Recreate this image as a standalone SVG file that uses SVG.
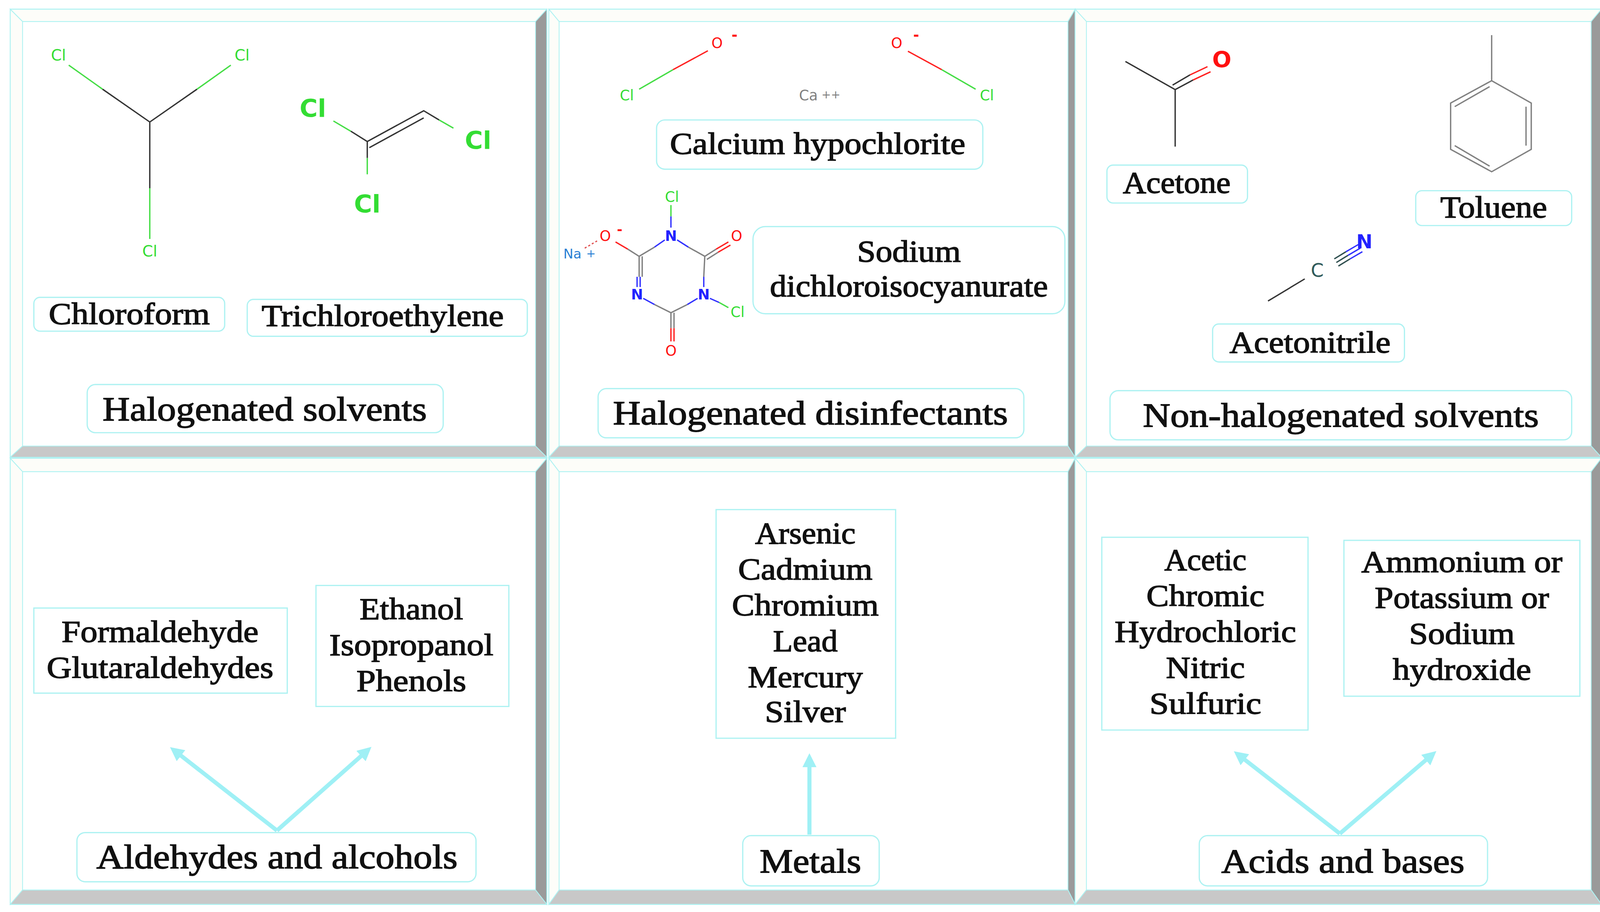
<svg xmlns="http://www.w3.org/2000/svg" width="4118" height="2336" viewBox="0 0 4118 2336">
<defs>
<style>
.lt{fill:#fdfdf9;stroke:#aef2f2;stroke-width:0.8}
.rd{fill:#9a9a9a;stroke:#aef2f2;stroke-width:0.8}
.bd{fill:#c8c8c8;stroke:#aef2f2;stroke-width:0.8}
.in{fill:#fff;stroke:#aef2f2;stroke-width:1}
.box{fill:#fff;stroke:#aef2f2;stroke-width:1.2}
.lbl{font-family:"Liberation Serif",serif;fill:#111;stroke:#111;stroke-width:0.7;text-anchor:middle;font-size:30px}
.big{font-size:33px}
.at{font-family:"DejaVu Sans",sans-serif;text-anchor:middle}
.cl{fill:#33dd33}.o{fill:#ff1010}.n{fill:#2222ff}
.bk{stroke:#333;stroke-width:1.3;fill:none}
.gr{stroke:#44dd44;stroke-width:1.3;fill:none}
.rr{stroke:#ff2020;stroke-width:1.3;fill:none}
.bb{stroke:#3030ff;stroke-width:1.3;fill:none}
.gy{stroke:#808080;stroke-width:1.3;fill:none}
.arr{stroke:#9ff0f5;stroke-width:4;fill:none;marker-end:url(#ah)}
</style>
<marker id="ah" viewBox="0 0 10 10" refX="6" refY="5" markerWidth="3.4" markerHeight="3.4" orient="auto"><path d="M0,0 L10,5 L0,10 z" fill="#9ff0f5"/></marker>
</defs>
<rect width="4118" height="2336" fill="#fff"/>
<g transform="scale(2.6263)">
<g id="panels">
<g id="p1"><rect class="in" x="10" y="9" width="523" height="437"/><polygon class="lt" points="10,9 533,9 522,21 22,21"/><polygon class="lt" points="10,9 22,21 22,435 10,446"/><polygon class="rd" points="533,9 533,446 522,435 522,21"/><polygon class="bd" points="10,446 22,435 522,435 533,446"/></g>
<g id="p2"><rect class="in" x="535" y="9" width="513" height="437"/><polygon class="lt" points="535,9 1048,9 1041,21 545,21"/><polygon class="lt" points="535,9 545,21 545,435 535,446"/><polygon class="rd" points="1048,9 1048,446 1041,435 1041,21"/><polygon class="bd" points="535,446 545,435 1041,435 1048,446"/></g>
<g id="p3"><rect class="in" x="1048" y="9" width="513" height="437"/><polygon class="lt" points="1048,9 1561,9 1551,21 1059,21"/><polygon class="lt" points="1048,9 1059,21 1059,435 1048,446"/><polygon class="rd" points="1561,9 1561,446 1551,435 1551,21"/><polygon class="bd" points="1048,446 1059,435 1551,435 1561,446"/></g>
<g id="p4"><rect class="in" x="10" y="447" width="523" height="435"/><polygon class="lt" points="10,447 533,447 522,460 22,460"/><polygon class="lt" points="10,447 22,460 22,868 10,882"/><polygon class="rd" points="533,447 533,882 522,868 522,460"/><polygon class="bd" points="10,882 22,868 522,868 533,882"/></g>
<g id="p5"><rect class="in" x="535" y="447" width="513" height="435"/><polygon class="lt" points="535,447 1048,447 1041,460 545,460"/><polygon class="lt" points="535,447 545,460 545,868 535,882"/><polygon class="rd" points="1048,447 1048,882 1041,868 1041,460"/><polygon class="bd" points="535,882 545,868 1041,868 1048,882"/></g>
<g id="p6"><rect class="in" x="1048" y="447" width="513" height="435"/><polygon class="lt" points="1048,447 1561,447 1551,460 1059,460"/><polygon class="lt" points="1048,447 1059,460 1059,868 1048,882"/><polygon class="rd" points="1561,447 1561,882 1551,868 1551,460"/><polygon class="bd" points="1048,882 1059,868 1551,868 1561,882"/></g>
</g>

<g id="chloroform-mol">
<path class="gr" d="M67,63.5 L100,87 M225,63.5 L192,87 M146,233 L146,183.5"/>
<path class="bk" d="M100,87 L146,119 L192,87 M146,119 L146,183.5"/>
<text class="at cl" x="57" y="59" font-size="15">Cl</text>
<text class="at cl" x="236" y="59" font-size="15">Cl</text>
<text class="at cl" x="146" y="250" font-size="15">Cl</text>
</g>
<g id="tce-mol">
<path class="gr" d="M325,118 L342,128 M442,125 L428,117 M358,170 L358,154"/>
<path class="bk" d="M342,128 L358,138 L413,108 L428,117 M358,138 L358,154 M360,144 L413,115"/>
<text class="at cl" x="305" y="114" font-size="24" font-weight="bold">Cl</text>
<text class="at cl" x="466" y="145" font-size="24" font-weight="bold">Cl</text>
<text class="at cl" x="358" y="207" font-size="24" font-weight="bold">Cl</text>
</g>
<g id="chloroform"><rect class="box" x="33" y="290" width="186" height="33" rx="6"/><text class="lbl" x="126" y="316" textLength="157" lengthAdjust="spacingAndGlyphs">Chloroform</text></g>
<g id="tce"><rect class="box" x="241" y="292" width="273" height="36" rx="6"/><text class="lbl" x="373" y="318" textLength="236" lengthAdjust="spacingAndGlyphs">Trichloroethylene</text></g>
<g id="halsolv"><rect class="box" x="85" y="375" width="347" height="47" rx="8"/><text class="lbl big" x="258" y="410" textLength="316" lengthAdjust="spacingAndGlyphs">Halogenated solvents</text></g>

<g id="caocl-mol">
<path class="gr" d="M623,87 L656,68 M951,87 L918,68"/>
<path class="rr" d="M656,68 L690,49.5 M918,68 L885,50"/>
<text class="at cl" x="611" y="98" font-size="14">Cl</text>
<text class="at o" x="699" y="47" font-size="14">O</text>
<text class="at o" x="716" y="39" font-size="14" font-weight="bold">-</text>
<text class="at" fill="#808080" x="788" y="98" font-size="14">Ca</text>
<text class="at" fill="#808080" x="810" y="96" font-size="11">++</text>
<text class="at o" x="874" y="47" font-size="14">O</text>
<text class="at o" x="893" y="39" font-size="14" font-weight="bold">-</text>
<text class="at cl" x="962" y="98" font-size="14">Cl</text>
</g>
<g id="caocl"><rect class="box" x="640" y="117" width="318" height="48" rx="8"/><text class="lbl" x="797" y="150" textLength="288" lengthAdjust="spacingAndGlyphs">Calcium hypochlorite</text></g>

<g id="nadcc-mol">
<path class="gr" d="M654,200 L654,211 M710,300 L701,295"/>
<path class="bb" d="M654,211 L654,222 M660,234 L671,241 M648,234 L638,241 M686,270 L686,280 M692,291 L701,295 M680,291 L670,297 M627,291 L638,297 M621,270 L621,280 M624,270 L624,280"/>
<path class="gy" d="M671,241 L687,250 L686,270 M638,241 L623,250 L623,270 M626,250 L626,270 M670,297 L654,305 L638,297 M654,305 L654,320 M657,305 L657,320 M687,250 L698,243 M689,253 L700,246 M623,250 L612,243"/>
<path class="rr" d="M654,320 L654,333 M657,320 L657,333 M698,243 L710,236 M700,246 L712,239 M612,243 L600,236"/>
<path d="M570,242 L582,235" stroke="#e05050" stroke-width="1.2" stroke-dasharray="2,2"/>
<text class="at cl" x="655" y="197" font-size="14">Cl</text>
<text class="at n" x="654" y="235" font-size="14" font-weight="bold">N</text>
<text class="at o" x="718" y="235" font-size="14">O</text>
<text class="at n" x="621" y="292" font-size="14" font-weight="bold">N</text>
<text class="at n" x="686" y="292" font-size="14" font-weight="bold">N</text>
<text class="at o" x="654" y="347" font-size="14">O</text>
<text class="at cl" x="719" y="309" font-size="14">Cl</text>
<text class="at o" x="590" y="235" font-size="14">O</text>
<text class="at o" x="604" y="228" font-size="13" font-weight="bold">-</text>
<text class="at" fill="#2a7fd4" x="558" y="252" font-size="13">Na</text>
<text class="at" fill="#2a7fd4" x="576" y="251" font-size="11">+</text>
</g>
<g id="nadcc"><rect class="box" x="734" y="221" width="304" height="85" rx="12"/><text class="lbl" x="886" y="255" textLength="101" lengthAdjust="spacingAndGlyphs">Sodium</text><text class="lbl" x="886" y="289" textLength="271" lengthAdjust="spacingAndGlyphs">dichloroisocyanurate</text></g>
<g id="haldis"><rect class="box" x="583" y="379" width="415" height="48" rx="8"/><text class="lbl big" x="790" y="414" textLength="385" lengthAdjust="spacingAndGlyphs">Halogenated disinfectants</text></g>

<g id="acetone-mol">
<path class="bk" d="M1097,60 L1145.5,87.4 L1145.5,143 M1145.5,87.4 L1163,78 M1143,83 L1160,73"/>
<path class="rr" d="M1163,78 L1180,70 M1160,73 L1177,65"/>
<text class="at o" x="1191" y="66" font-size="22" font-weight="bold">O</text>
</g>
<g id="acetone"><rect class="box" x="1079" y="161" width="137" height="37" rx="6"/><text class="lbl" x="1147" y="188" textLength="105" lengthAdjust="spacingAndGlyphs">Acetone</text></g>
<g id="toluene-mol">
<path class="gy" d="M1454,34.3 L1454,78.7 M1454,78.7 L1492.6,100.5 L1492.6,145.6 L1454,167.5 L1414,145.6 L1414,100.5 Z M1418,104 L1452,84.5 M1487.5,104 L1487.5,142 M1452,162 L1418,142"/>
</g>
<g id="toluene"><rect class="box" x="1380" y="186" width="152" height="34" rx="6"/><text class="lbl" x="1456" y="212" textLength="104" lengthAdjust="spacingAndGlyphs">Toluene</text></g>
<g id="acn-mol">
<path class="bk" d="M1236,293.6 L1271.8,272"/>
<path d="M1302.6,256 L1314,249 M1300.6,252.5 L1312,245.5 M1304.6,259.5 L1316,252.5" stroke="#2f4f4f" stroke-width="1.3"/>
<path class="bb" d="M1314,249 L1326,242 M1312,245.5 L1324,238.5 M1316,252.5 L1328,245.5"/>
<text class="at" fill="#2f5a5a" x="1284" y="270" font-size="18">C</text>
<text class="at n" x="1330" y="242" font-size="19" font-weight="bold">N</text>
</g>
<g id="acn"><rect class="box" x="1182" y="316" width="187" height="37" rx="6"/><text class="lbl" x="1277" y="344" textLength="157" lengthAdjust="spacingAndGlyphs">Acetonitrile</text></g>
<g id="nonhal"><rect class="box" x="1082" y="381" width="450" height="48" rx="8"/><text class="lbl big" x="1307" y="416" textLength="386" lengthAdjust="spacingAndGlyphs">Non-halogenated solvents</text></g>

<g id="aldehydes"><rect class="box" x="33" y="593" width="247" height="83"/><text class="lbl" x="156" y="626" textLength="192" lengthAdjust="spacingAndGlyphs">Formaldehyde</text><text class="lbl" x="156" y="661" textLength="221" lengthAdjust="spacingAndGlyphs">Glutaraldehydes</text></g>
<g id="alcohols"><rect class="box" x="308" y="571" width="188" height="118"/><text class="lbl" x="401" y="604" textLength="101" lengthAdjust="spacingAndGlyphs">Ethanol</text><text class="lbl" x="401" y="639" textLength="160" lengthAdjust="spacingAndGlyphs">Isopropanol</text><text class="lbl" x="401" y="674" textLength="107" lengthAdjust="spacingAndGlyphs">Phenols</text></g>
<g id="aldalc"><rect class="box" x="75" y="812" width="389" height="48" rx="8"/><text class="lbl big" x="270" y="847" textLength="352" lengthAdjust="spacingAndGlyphs">Aldehydes and alcohols</text></g>

<g id="metallist"><rect class="box" x="698" y="497" width="175" height="223"/><text class="lbl" x="785" y="530" textLength="98" lengthAdjust="spacingAndGlyphs">Arsenic</text><text class="lbl" x="785" y="565" textLength="131" lengthAdjust="spacingAndGlyphs">Cadmium</text><text class="lbl" x="785" y="600" textLength="143" lengthAdjust="spacingAndGlyphs">Chromium</text><text class="lbl" x="785" y="635" textLength="63" lengthAdjust="spacingAndGlyphs">Lead</text><text class="lbl" x="785" y="670" textLength="112" lengthAdjust="spacingAndGlyphs">Mercury</text><text class="lbl" x="785" y="704" textLength="79" lengthAdjust="spacingAndGlyphs">Silver</text></g>
<g id="metals"><rect class="box" x="724" y="815" width="133" height="49" rx="8"/><text class="lbl big" x="790" y="851" textLength="99" lengthAdjust="spacingAndGlyphs">Metals</text></g>

<g id="acids"><rect class="box" x="1074" y="524" width="201" height="188"/><text class="lbl" x="1175" y="556" textLength="80" lengthAdjust="spacingAndGlyphs">Acetic</text><text class="lbl" x="1175" y="591" textLength="115" lengthAdjust="spacingAndGlyphs">Chromic</text><text class="lbl" x="1175" y="626" textLength="177" lengthAdjust="spacingAndGlyphs">Hydrochloric</text><text class="lbl" x="1175" y="661" textLength="77" lengthAdjust="spacingAndGlyphs">Nitric</text><text class="lbl" x="1175" y="696" textLength="109" lengthAdjust="spacingAndGlyphs">Sulfuric</text></g>
<g id="bases"><rect class="box" x="1310" y="527" width="230" height="152"/><text class="lbl" x="1425" y="558" textLength="196" lengthAdjust="spacingAndGlyphs">Ammonium or</text><text class="lbl" x="1425" y="593" textLength="170" lengthAdjust="spacingAndGlyphs">Potassium or</text><text class="lbl" x="1425" y="628" textLength="103" lengthAdjust="spacingAndGlyphs">Sodium</text><text class="lbl" x="1425" y="663" textLength="135" lengthAdjust="spacingAndGlyphs">hydroxide</text></g>
<g id="acidbase"><rect class="box" x="1169" y="815" width="281" height="49" rx="8"/><text class="lbl big" x="1309" y="851" textLength="237" lengthAdjust="spacingAndGlyphs">Acids and bases</text></g>

<g id="connectors">
<path class="arr" d="M270,810 L170,732"/>
<path class="arr" d="M270,810 L358,732"/>
<path class="arr" d="M789,814 L789,740"/>
<path class="arr" d="M1306,813 L1207,736"/>
<path class="arr" d="M1306,813 L1396,736"/>
</g>
</g>
</svg>
